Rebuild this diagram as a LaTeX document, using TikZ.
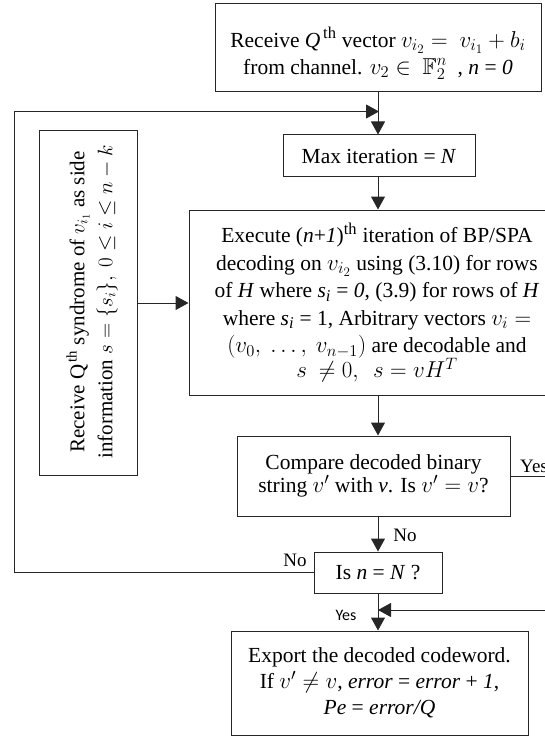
\documentclass[tikz,border=0pt]{standalone}
\usepackage{fix-cm}
\usepackage{amsmath,amssymb}
\usepackage{fontspec}
\setmainfont{Liberation Serif}
\newfontfamily\labelsans{Carlito}
\usetikzlibrary{arrows.meta}
% slightly larger math than the surrounding serif text
\DeclareMathSizes{21.5}{23}{16.5}{13}

\tikzset{
  flowbox/.style={draw=black!85, line width=1pt, align=center, inner sep=0pt,
    node font=\fontsize{21.5}{27}\selectfont},
  flowline/.style={draw=black!85, line width=1pt},
  flowarrow/.style={flowline, -{Triangle[width=14pt,length=13pt]}},
  edgelabel/.style={inner sep=0pt, node font=\fontsize{19}{21}\selectfont},
}

\begin{document}
\begin{tikzpicture}[x=1pt,y=-1pt]
\useasboundingbox (0,0) rectangle (545,738);
\clip (0,0) rectangle (545,738);

% process boxes
\node[flowbox, minimum width=326pt, minimum height=88pt] (recv) at (378,48)
  {\rule{0pt}{31pt}Receive \textit{Q}\textsuperscript{\,th} vector $v_{i_2} =\ v_{i_1} + b_i$\\
   from channel. $v_2 \in\ \mathbb{F}_2^n$\ \ , \textit{n} = \textit{0}};

\node[flowbox, minimum width=192pt, minimum height=42pt] (maxit) at (379,156)
  {Max iteration = \textit{N}};

\node[flowbox, minimum width=376pt, minimum height=185pt,
      node font=\fontsize{21.5}{27.5}\selectfont] (exec) at (377,302.5)
  {Execute (\textit{n}+\textit{1})\textsuperscript{th} iteration of BP/SPA\\
   decoding on $v_{i_2}$ using (3.10) for rows\\
   of \textit{H} where \textit{s}\textsubscript{\textit{i}} = \textit{0}, (3.9) for rows of \textit{H}\\
   where \textit{s}\textsubscript{\textit{i}} = 1, Arbitrary vectors $v_i =$\\
   $(v_0,\ \dots,\ v_{n-1})$ are decodable and\\[-3pt]
   $s\ \neq 0,\ \ s = vH^T$};

\node[flowbox, minimum width=98pt, minimum height=344pt] (side) at (88.5,303) {};
\node[align=center, inner sep=0pt, rotate=90, node font=\fontsize{21}{28}\selectfont]
  (sidetext) at (92,302)
  {Receive Q\textsuperscript{\,th} syndrome of $v_{i_1}$ as side\\
   information $s = \{s_i\},\ 0 \le i \le n - k$};

\node[flowbox, minimum width=273pt, minimum height=80pt,
      node font=\fontsize{21.5}{23.5}\selectfont] (cmp) at (373.5,476)
  {Compare decoded binary\\ string $v'$ with \textit{v}. Is $v' = v$?};

\node[flowbox, minimum width=128pt, minimum height=41pt] (isn) at (378,572.5)
  {Is \textit{n} = \textit{N} ?};

\node[flowbox, minimum width=297pt, minimum height=104pt,
      node font=\fontsize{21.5}{26}\selectfont] (export) at (379.5,683)
  {Export the decoded codeword.\\
   If $v' \neq v$, \textit{error} = \textit{error} + \textit{1},\\
   \textit{Pe} = \textit{error/Q}};

% helper points
\coordinate (loopcorner) at (14.5,111.5);
\coordinate (loopin) at (379,111.5);
\coordinate (yescorner) at (565,610);

% connectors
\draw[flowarrow] (recv.south) -- (recv.south |- maxit.north);
\draw[flowarrow] (recv.south |- maxit.south) -- (recv.south |- exec.north);
\draw[flowarrow] (side.east) -- (side.east -| exec.west);
\draw[flowarrow] (recv.south |- exec.south) -- (recv.south |- cmp.north);
\draw[flowarrow] (recv.south |- cmp.south) -- (recv.south |- isn.north);
\draw[flowarrow] (recv.south |- isn.south) -- (recv.south |- export.north);
\draw[flowarrow] (isn.west) -| (loopcorner) -- (loopin);
\draw[flowarrow] (cmp.east) -| (yescorner) -- (yescorner -| recv.south);

% branch labels
\node[edgelabel, anchor=west] (yeslbl) at (520,466) {Yes};
\node[edgelabel] (nolbl1) at (405,535) {No};
\node[edgelabel] (nolbl2) at (295,560) {No};
\node[inner sep=0pt, node font=\labelsans\fontsize{16}{18}\selectfont] (yeslbl2) at (346,615) {Yes};
\end{tikzpicture}
\end{document}
